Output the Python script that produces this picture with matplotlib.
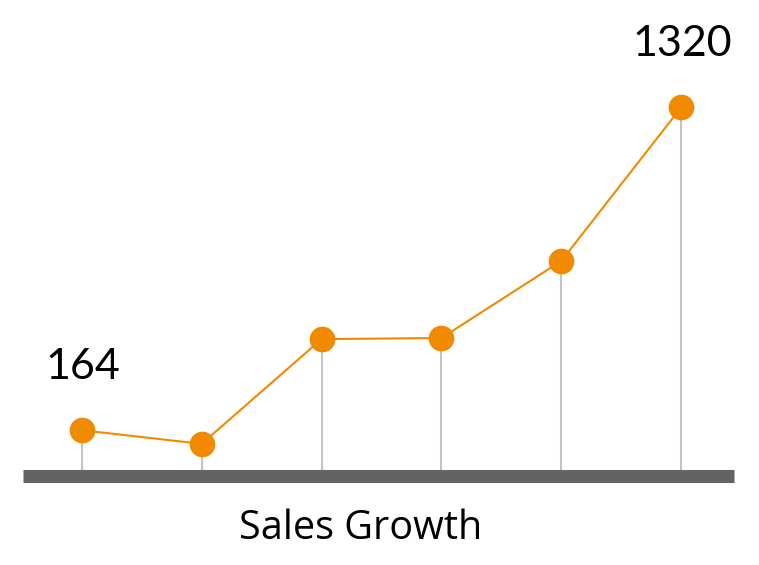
import matplotlib.pyplot as plt

periods = [0, 1, 2, 3, 4, 5]
sales = [164, 115, 490, 494, 770, 1320]
labelled = [0, 5]
title = "Sales Growth"

orange = "#F28A00"

fig = plt.figure(figsize=(7.59, 5.65), dpi=100)
# axes bottom = value 0 at y=476px, 1 px ~ 3.58 units
ax = fig.add_axes([23 / 759, (565 - 476) / 565, (734 - 23) / 759, 476 / 565])
ax.set_xlim(-0.49, 5.44)
ax.set_ylim(0, 476 * 3.58)
ax.axis("off")

# stems
ax.vlines(periods, 0, sales, color="#c4c4c4", lw=1.5, zorder=1)
# baseline bar
ax.axhline(0, color="#636363", lw=9.4, zorder=2, clip_on=False,
           solid_capstyle="butt")
ax.plot(periods, sales, color=orange, lw=1.5, marker="o", ms=18.5,
        markeredgewidth=0, zorder=3)

for i in labelled:
    ax.annotate(str(sales[i]), (periods[i], sales[i]), xytext=(1, 32),
                textcoords="offset points", ha="center", va="bottom",
                fontsize=31, family="Lato", color="black")

fig.text(361 / 759, 1 - 529 / 565, title, ha="center", va="center",
         fontsize=28.5, family="Open Sans", color="black")

fig.savefig("out.png", dpi=100)
